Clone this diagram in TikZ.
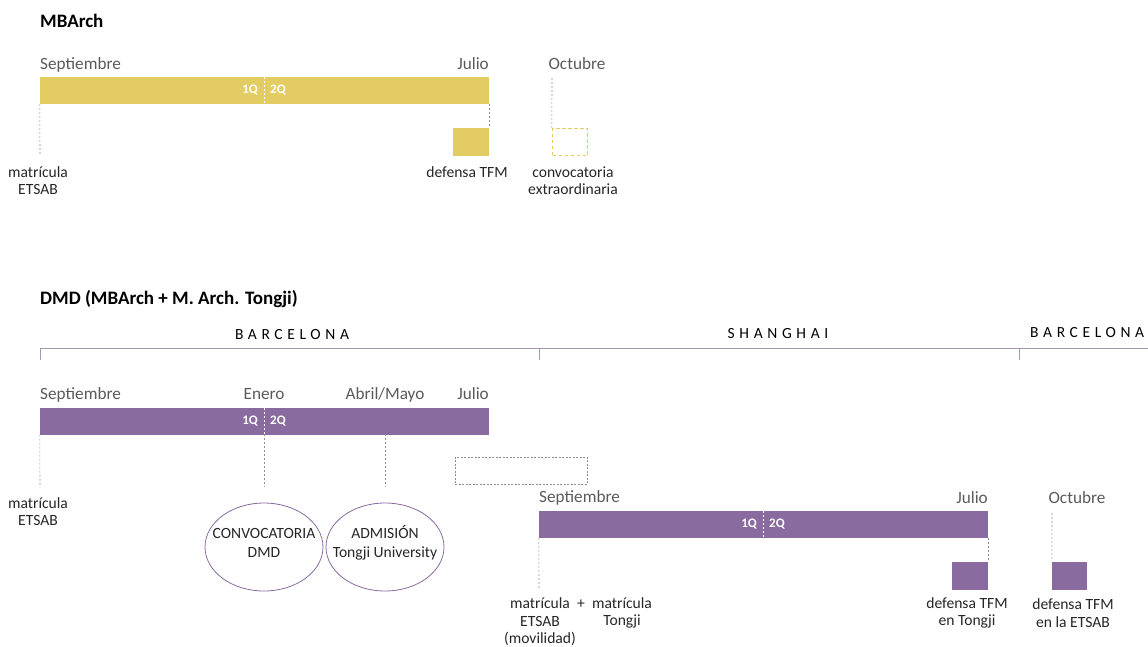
\documentclass[tikz,border=0pt]{standalone}
\usepackage{fontspec}
\setmainfont{Carlito}
\usetikzlibrary{shapes.geometric}
\definecolor{yel}{HTML}{E3CD62}
\definecolor{pur}{HTML}{896B9F}
\definecolor{txtg}{HTML}{5A5A5A}
\definecolor{dashg}{HTML}{8C8C8C}
\definecolor{linep}{HTML}{A596B4}
\begin{document}
\begin{tikzpicture}[x=1pt,y=-1pt,
 month/.style={font=\fontsize{17.2}{19}\selectfont, text=txtg, inner sep=0pt, anchor=base},
 lbl/.style={font=\fontsize{15.6}{17.5}\selectfont, text=black!85, inner sep=0pt, align=center},
 titlebox/.style={font=\fontsize{19}{21}\selectfont\bfseries, inner sep=0pt, anchor=base west},
 qlbl/.style={font=\fontsize{13}{14}\selectfont\bfseries, text=white, inner sep=0pt},
 guide/.style={draw=dashg, line width=0.6pt, dash pattern=on 2pt off 2pt},
 qline/.style={draw=white, line width=0.8pt, dash pattern=on 2pt off 2pt},
 city/.style={font=\fontsize{15.5}{17}\selectfont\addfontfeature{LetterSpace=30}, inner sep=0pt, anchor=base},
 ybar/.style={fill=yel, draw=none, inner sep=0pt, minimum width=449pt, minimum height=27pt},
 pbar/.style={fill=pur, draw=none, inner sep=0pt, minimum width=449pt, minimum height=27pt},
 ybox/.style={fill=yel, draw=none, inner sep=0pt, minimum width=36pt, minimum height=28pt},
 pbox/.style={fill=pur, draw=none, inner sep=0pt, minimum width=36pt, minimum height=28pt},
 oval/.style={ellipse, draw=pur, line width=0.8pt, minimum width=118pt, minimum height=88pt, inner sep=0pt},
 ovtext/.style={inner sep=0pt, align=center, font=\fontsize{15.6}{18.5}\selectfont, text=black!85},
]
\useasboundingbox (0,0) rectangle (1148,646);

%% ---------------- MBArch ----------------
\node[titlebox] (t1) at (40,27) {MBArch};
\node[month, anchor=base west] (m1) at (40,69) {Septiembre};
\node[month, anchor=base east] (m2) at (489,69) {Julio};
\node[month] (m3) at (577,69) {Octubre};
\node[ybar] (bar1) at (264.5,90.5) {};
\coordinate (q1t) at (264,77); \coordinate (q1b) at (264,104);
\draw[qline] (q1t) -- (q1b);
\node[qlbl, anchor=east] (q1a) at (258,90.5) {1Q};
\node[qlbl, anchor=west] (q1c) at (270,90.5) {2Q};
\node[ybox] (def1) at (471,142) {};
\node[ybox, fill=none, draw=yel, line width=1.3pt, dash pattern=on 3.5pt off 2.5pt, minimum width=35pt, minimum height=27pt] (ext1) at (570,142) {};
\coordinate (g1e) at (40,155);
\coordinate (g2s) at (552,78);
\draw[guide] (bar1.south west) -- (g1e);
\draw[guide] (bar1.south east) -- (def1.north east);
\draw[guide] (g2s) -- (ext1.north west);
\node[lbl] (l1) at (38,180.5) {matrícula\\ETSAB};
\node[lbl] (l2) at (467,172) {defensa TFM};
\node[lbl] (l3) at (573,180.5) {convocatoria\\extraordinaria};

%% ---------------- DMD ----------------
\node[titlebox] (t2) at (40,304) {DMD (MBArch + M. Arch. Tongji)};
\node[city] (c1) at (292,339) {BARCELONA};
\node[city] (c2) at (778,338) {SHANGHAI};
\node[city, anchor=base west] (c3) at (1030,337) {BARCELONA};
\coordinate (h0) at (40,348); \coordinate (h1) at (539,348);
\coordinate (h2) at (1019,348); \coordinate (h3) at (1148,348);
\coordinate (k0) at (40,360); \coordinate (k1) at (539,360); \coordinate (k2) at (1019,360);
\draw[linep, line width=1pt] (h0) -- (h3);
\draw[linep, line width=1pt] (h0) -- (k0) (h1) -- (k1) (h2) -- (k2);

\node[month, anchor=base west] (n1) at (40,399) {Septiembre};
\node[month] (n2) at (264,399) {Enero};
\node[month] (n3) at (385,399) {Abril/Mayo};
\node[month, anchor=base east] (n4) at (489,399) {Julio};
\node[pbar] (bar2) at (264.5,421) {};
\coordinate (q2t) at (264,408); \coordinate (q2b) at (264,434);
\draw[qline] (q2t) -- (q2b);
\node[qlbl, anchor=east] (q2a) at (258,421) {1Q};
\node[qlbl, anchor=west] (q2c) at (270,421) {2Q};

\coordinate (d0) at (40,487); \coordinate (d1s) at (385,434);
\coordinate (d1e) at (264,487); \coordinate (d2e) at (385,487);
\node[oval] (o1) at (264,547) {};
\node[oval] (o2) at (385,547) {};
\node[ovtext] (o1t) at ([yshift=4pt]o1.center) {CONVOCATORIA\\DMD};
\node[ovtext] (o2t) at ([yshift=4pt]o2.center) {ADMISIÓN\\Tongji University};
\draw[guide] (bar2.south west) -- (d0);
\draw[guide] (q2b) -- (d1e);
\draw[guide] (d1s) -- (d2e);
\node[lbl] (l4) at (38,511.5) {matrícula\\ETSAB};

\node[draw=dashg, line width=0.7pt, dash pattern=on 2pt off 1.5pt, minimum width=132pt, minimum height=27pt, inner sep=0pt] (gap) at (521,470.5) {};

\node[month, anchor=base west] (p1) at (539,502) {Septiembre};
\node[month, anchor=base east] (p2) at (988,503) {Julio};
\node[month] (p3) at (1077,503) {Octubre};
\node[pbar] (bar3) at (763.5,524.5) {};
\coordinate (q3t) at (763,511); \coordinate (q3b) at (763,538);
\draw[qline] (q3t) -- (q3b);
\node[qlbl, anchor=east] (q3a) at (757,524.5) {1Q};
\node[qlbl, anchor=west] (q3c) at (769,524.5) {2Q};
\node[pbox] (def2) at (970,575.5) {};
\node[pbox, minimum width=35pt] (def3) at (1069.5,575.5) {};
\coordinate (e0) at (539,590); \coordinate (e1) at (1052,513);
\draw[guide] (bar3.south west) -- (e0);
\draw[guide] (bar3.south east) -- (def2.north east);
\draw[guide] (e1) -- (def3.north west);

\node[lbl] (l5) at (540,622) {matrícula\\ETSAB\\(movilidad)};
\node[lbl] (plus) at (581,604) {+};
\node[lbl] (l6) at (622,613) {matrícula\\Tongji};
\node[lbl] (l7) at (967,613) {defensa TFM\\en Tongji};
\node[lbl] (l8) at (1073,613) {defensa TFM\\en la ETSAB};
\end{tikzpicture}
\end{document}
